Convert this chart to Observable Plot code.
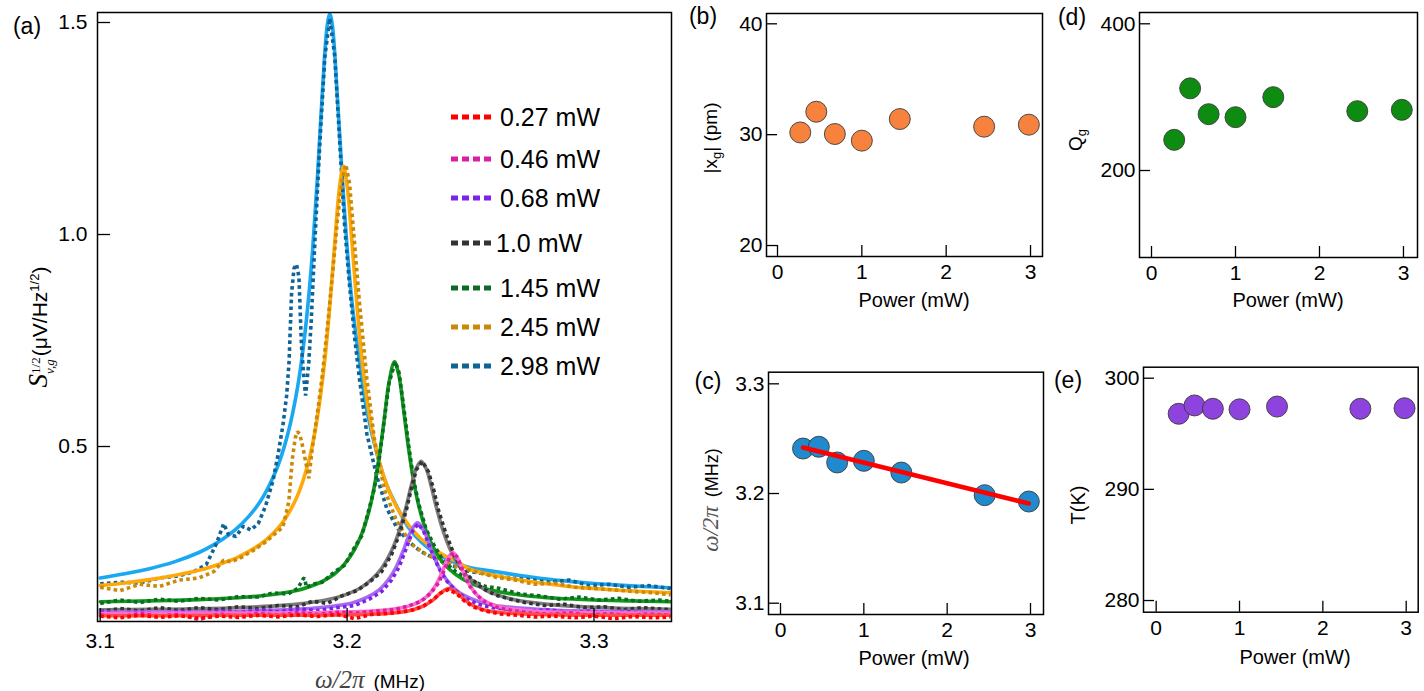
<!DOCTYPE html>
<html><head><meta charset="utf-8">
<script src="https://cdn.jsdelivr.net/npm/d3@7"></script>
<script src="https://cdn.jsdelivr.net/npm/@observablehq/plot@0.6"></script>
<style>
body{margin:0;background:#fff;}
#fig{position:relative;width:1424px;height:691px;font-family:"Liberation Sans",Arial,sans-serif;color:#000;overflow:hidden;background:#fff;}
#fig svg{position:absolute;}
#fig svg text{font-size:21px;font-family:"Liberation Sans",Arial,sans-serif;}
.t{position:absolute;white-space:nowrap;transform:translate(-50%,-50%);line-height:1;}
.r{transform:translate(-50%,-50%) rotate(-90deg);}
.m{font-family:"Liberation Serif","DejaVu Serif",serif;font-style:italic;}
</style></head><body><div id="fig"></div>
<script>
// ---------- panel (a): spectra ----------
const powerLabels = ["0.27 mW","0.46 mW","0.68 mW","1.0 mW","1.45 mW","2.45 mW","2.98 mW"];
const dataColors = ["#ff0000","#d91fa6","#7d22e8","#333333","#0c6b27","#c98a0a","#0f6396"];
const fitColors  = ["#ff4a4a","#ff6ccc","#a56af0","#7c7c7c","#119a1a","#ffa80a","#1aa8f2"];

const fitF027 = [3.100,3.130,3.160,3.185,3.200,3.212,3.220,3.226,3.231,3.235,3.238,3.2412,3.2445,3.2475,3.251,3.256,3.263,3.272,3.285,3.305,3.331];
const fitV027 = [0.101,0.101,0.102,0.102,0.103,0.105,0.108,0.114,0.124,0.139,0.155,0.165,0.155,0.139,0.125,0.114,0.108,0.105,0.103,0.102,0.102];
const datF027 = [3.100,3.108,3.116,3.124,3.132,3.140,3.148,3.156,3.164,3.172,3.180,3.188,3.196,3.203,3.210,3.216,3.222,3.227,3.231,3.235,3.238,3.2412,3.2445,3.2475,3.251,3.256,3.262,3.269,3.276,3.284,3.292,3.300,3.308,3.316,3.324,3.331];
const datV027 = [0.100,0.096,0.102,0.097,0.101,0.095,0.100,0.097,0.102,0.098,0.103,0.099,0.104,0.094,0.104,0.106,0.110,0.115,0.124,0.140,0.155,0.163,0.152,0.136,0.122,0.112,0.105,0.102,0.098,0.100,0.096,0.100,0.094,0.099,0.096,0.098];

const fitF046 = [3.100,3.130,3.160,3.185,3.200,3.210,3.218,3.224,3.229,3.233,3.236,3.2385,3.2408,3.2428,3.2448,3.2471,3.2496,3.2526,3.256,3.261,3.268,3.278,3.290,3.305,3.331];
const fitV046 = [0.106,0.107,0.107,0.108,0.110,0.112,0.116,0.122,0.133,0.150,0.174,0.204,0.236,0.250,0.236,0.204,0.174,0.150,0.135,0.123,0.116,0.111,0.109,0.108,0.107];
const datF046 = [3.100,3.108,3.116,3.124,3.132,3.140,3.148,3.156,3.164,3.172,3.180,3.188,3.196,3.204,3.212,3.219,3.225,3.230,3.234,3.237,3.2395,3.2415,3.243,3.2448,3.247,3.2495,3.2525,3.256,3.261,3.267,3.274,3.282,3.290,3.298,3.306,3.314,3.322,3.331];
const datV046 = [0.103,0.098,0.106,0.100,0.104,0.092,0.105,0.100,0.106,0.102,0.108,0.104,0.109,0.107,0.112,0.115,0.124,0.135,0.155,0.178,0.210,0.238,0.250,0.238,0.205,0.172,0.150,0.133,0.120,0.113,0.108,0.104,0.108,0.102,0.106,0.101,0.105,0.102];

const fitF068 = [3.100,3.120,3.140,3.160,3.175,3.185,3.195,3.202,3.208,3.213,3.217,3.220,3.223,3.2255,3.2285,3.2315,3.234,3.237,3.240,3.244,3.248,3.253,3.260,3.270,3.285,3.300,3.315,3.331];
const fitV068 = [0.109,0.110,0.110,0.112,0.115,0.118,0.124,0.131,0.144,0.162,0.188,0.217,0.258,0.296,0.320,0.296,0.258,0.217,0.188,0.162,0.147,0.135,0.125,0.119,0.114,0.112,0.111,0.110];
const datF068 = [3.100,3.108,3.116,3.124,3.132,3.140,3.148,3.156,3.164,3.172,3.180,3.188,3.196,3.203,3.209,3.214,3.218,3.221,3.224,3.2265,3.2288,3.231,3.234,3.237,3.240,3.244,3.248,3.253,3.259,3.266,3.274,3.282,3.290,3.298,3.306,3.314,3.322,3.331];
const datV068 = [0.112,0.105,0.110,0.104,0.112,0.106,0.113,0.108,0.114,0.110,0.117,0.113,0.120,0.125,0.140,0.158,0.185,0.215,0.260,0.300,0.318,0.300,0.255,0.215,0.185,0.160,0.142,0.128,0.120,0.116,0.112,0.115,0.108,0.112,0.107,0.110,0.106,0.108];

const fitF100 = [3.100,3.120,3.140,3.160,3.175,3.185,3.195,3.200,3.205,3.210,3.214,3.218,3.221,3.224,3.226,3.228,3.230,3.232,3.234,3.236,3.239,3.242,3.246,3.250,3.256,3.263,3.270,3.285,3.300,3.315,3.331];
const fitV100 = [0.115,0.116,0.117,0.121,0.126,0.132,0.143,0.152,0.165,0.187,0.213,0.254,0.299,0.360,0.408,0.448,0.465,0.448,0.408,0.360,0.299,0.254,0.213,0.187,0.162,0.146,0.136,0.126,0.121,0.118,0.116];
const datF100 = [3.100,3.108,3.116,3.124,3.132,3.140,3.148,3.156,3.164,3.172,3.180,3.186,3.192,3.198,3.204,3.209,3.214,3.218,3.221,3.224,3.226,3.228,3.2305,3.233,3.235,3.237,3.240,3.243,3.246,3.250,3.255,3.260,3.266,3.272,3.280,3.288,3.296,3.304,3.312,3.320,3.331];
const datV100 = [0.110,0.118,0.112,0.120,0.113,0.120,0.115,0.122,0.118,0.125,0.122,0.135,0.130,0.148,0.160,0.180,0.205,0.245,0.290,0.350,0.400,0.445,0.465,0.440,0.400,0.350,0.295,0.250,0.215,0.190,0.165,0.150,0.140,0.132,0.125,0.128,0.120,0.122,0.115,0.120,0.115];

const fitF145 = [3.100,3.120,3.140,3.160,3.170,3.180,3.185,3.190,3.195,3.199,3.203,3.206,3.209,3.211,3.213,3.215,3.217,3.2192,3.221,3.223,3.225,3.227,3.229,3.232,3.235,3.239,3.244,3.250,3.260,3.270,3.285,3.300,3.315,3.331];
const fitV145 = [0.134,0.136,0.139,0.145,0.151,0.161,0.170,0.182,0.200,0.223,0.257,0.295,0.351,0.405,0.475,0.562,0.652,0.700,0.667,0.581,0.491,0.417,0.361,0.301,0.261,0.225,0.198,0.178,0.159,0.150,0.142,0.138,0.136,0.134];
const datF145 = [3.100,3.108,3.116,3.124,3.132,3.140,3.148,3.156,3.164,3.170,3.176,3.180,3.1822,3.1828,3.1835,3.186,3.190,3.195,3.199,3.203,3.206,3.209,3.211,3.213,3.215,3.217,3.2195,3.221,3.223,3.225,3.227,3.229,3.232,3.235,3.239,3.244,3.250,3.256,3.262,3.270,3.278,3.286,3.294,3.302,3.310,3.318,3.326,3.331];
const datV145 = [0.130,0.138,0.132,0.140,0.135,0.142,0.138,0.146,0.145,0.155,0.152,0.165,0.188,0.190,0.168,0.175,0.180,0.205,0.220,0.262,0.290,0.355,0.400,0.470,0.560,0.650,0.700,0.675,0.590,0.500,0.420,0.365,0.305,0.270,0.230,0.205,0.185,0.170,0.165,0.152,0.148,0.140,0.145,0.138,0.142,0.135,0.138,0.135];

const fitF245 = [3.100,3.110,3.120,3.130,3.140,3.150,3.155,3.160,3.165,3.170,3.174,3.177,3.179,3.181,3.183,3.185,3.187,3.189,3.191,3.193,3.195,3.197,3.1985,3.200,3.202,3.204,3.206,3.209,3.212,3.216,3.220,3.225,3.230,3.235,3.240,3.245,3.250,3.260,3.270,3.280,3.290,3.300,3.310,3.320,3.331];
const fitV245 = [0.172,0.178,0.186,0.196,0.208,0.226,0.237,0.252,0.270,0.295,0.322,0.350,0.372,0.400,0.435,0.478,0.535,0.610,0.706,0.832,0.980,1.115,1.160,1.115,0.980,0.832,0.706,0.575,0.488,0.410,0.358,0.314,0.282,0.259,0.241,0.227,0.210,0.196,0.185,0.177,0.170,0.165,0.161,0.158,0.155];
const datF245 = [3.100,3.108,3.116,3.124,3.132,3.140,3.146,3.150,3.153,3.157,3.162,3.167,3.171,3.174,3.1764,3.1778,3.1790,3.1798,3.1808,3.1820,3.1832,3.1845,3.186,3.188,3.190,3.192,3.194,3.196,3.198,3.1995,3.201,3.203,3.205,3.208,3.211,3.215,3.220,3.226,3.232,3.238,3.245,3.252,3.260,3.268,3.276,3.284,3.292,3.300,3.308,3.316,3.324,3.331];
const datV245 = [0.168,0.160,0.175,0.170,0.185,0.190,0.205,0.232,0.228,0.238,0.255,0.275,0.295,0.310,0.370,0.470,0.520,0.535,0.530,0.500,0.465,0.425,0.500,0.580,0.670,0.780,0.900,1.030,1.130,1.165,1.120,0.980,0.840,0.660,0.520,0.400,0.325,0.270,0.245,0.230,0.215,0.205,0.192,0.185,0.175,0.178,0.168,0.165,0.162,0.158,0.155,0.150];

const fitF298 = [3.100,3.110,3.120,3.130,3.140,3.145,3.150,3.155,3.160,3.165,3.170,3.173,3.176,3.178,3.180,3.182,3.184,3.186,3.188,3.190,3.192,3.193,3.194,3.196,3.198,3.200,3.202,3.205,3.208,3.212,3.216,3.220,3.225,3.230,3.235,3.240,3.245,3.250,3.260,3.270,3.280,3.290,3.300,3.310,3.320,3.331];
const fitV298 = [0.190,0.200,0.212,0.228,0.250,0.265,0.283,0.305,0.334,0.372,0.427,0.471,0.530,0.580,0.642,0.722,0.826,0.961,1.136,1.337,1.495,1.520,1.495,1.330,1.140,0.970,0.840,0.700,0.585,0.485,0.410,0.360,0.308,0.275,0.252,0.236,0.223,0.214,0.205,0.196,0.188,0.182,0.177,0.173,0.170,0.167];
const datF298 = [3.100,3.108,3.116,3.124,3.132,3.138,3.143,3.147,3.150,3.152,3.155,3.158,3.161,3.164,3.167,3.170,3.172,3.174,3.1755,3.1765,3.1775,3.1785,3.1795,3.1805,3.1815,3.1825,3.1832,3.1845,3.1855,3.187,3.189,3.191,3.193,3.195,3.197,3.199,3.201,3.203,3.205,3.208,3.212,3.216,3.220,3.225,3.230,3.236,3.242,3.250,3.258,3.266,3.274,3.282,3.290,3.298,3.306,3.314,3.322,3.331];
const datV298 = [0.176,0.180,0.178,0.190,0.195,0.205,0.222,0.270,0.318,0.292,0.288,0.312,0.303,0.318,0.360,0.420,0.480,0.550,0.620,0.700,0.860,0.920,0.930,0.900,0.740,0.660,0.620,0.700,0.800,0.990,1.220,1.420,1.510,1.420,1.220,1.020,0.880,0.760,0.660,0.530,0.430,0.355,0.310,0.275,0.252,0.235,0.220,0.205,0.198,0.190,0.186,0.180,0.185,0.172,0.175,0.168,0.172,0.165];

const xTicksA = [3.1, 3.2, 3.3];
const yTicksA = [0.5, 1.0, 1.5];

// ---------- panels (b)-(e): fitted parameters vs power ----------
const powerMW = [0.27, 0.46, 0.68, 1.0, 1.45, 2.45, 2.98];
const ampXg   = [30.2, 32.07, 30.06, 29.46, 31.41, 30.72, 30.9];
const freqRes = [3.241, 3.2426, 3.2283, 3.2298, 3.2191, 3.1985, 3.1927];
const qualQg  = [241.8, 312, 276.8, 272.7, 300, 280.9, 282.7];
const tempK   = [296.8, 297.55, 297.25, 297.2, 297.45, 297.25, 297.3];
const linFitP = [0.27, 2.98];
const linFitW = [3.2419, 3.1909];
const powerTicks = [0, 1, 2, 3];

// ---------- build ----------
const FONT = '"Liberation Sans", Arial, sans-serif';
const fig = document.getElementById("fig");
const rows = (xs, ys) => xs.map((x, i) => ({x, y: ys[i]}));

const curves = [
  [fitF027, fitV027, datF027, datV027],
  [fitF046, fitV046, datF046, datV046],
  [fitF068, fitV068, datF068, datV068],
  [fitF100, fitV100, datF100, datV100],
  [fitF145, fitV145, datF145, datV145],
  [fitF245, fitV245, datF245, datV245],
  [fitF298, fitV298, datF298, datV298]
];

const lineMarks = [];
for (let i = curves.length - 1; i >= 0; i--) {
  const [ff, fv, df, dv] = curves[i];
  lineMarks.push(Plot.line(rows(ff, fv), {x: "x", y: "y", stroke: fitColors[i], strokeWidth: 3.6, curve: "catmull-rom", clip: true}));
  lineMarks.push(Plot.line(rows(df, dv), {x: "x", y: "y", stroke: dataColors[i], strokeWidth: 3.6, strokeDasharray: "3.6,3.2", strokeLinecap: "butt", strokeLinejoin: "miter", clip: true}));
}

const fmt1 = d3.format(".1f");
const fmtD = d3.format("d");
const place = (svg, left, top) => { svg.style.left = left + "px"; svg.style.top = top + "px"; fig.appendChild(svg); };

const plotA = Plot.plot({
  width: 690, height: 691, marginLeft: 97, marginRight: 19, marginTop: 12, marginBottom: 70,
  style: {fontFamily: FONT, fontSize: "21px", color: "#000", background: "transparent", overflow: "visible"},
  x: {domain: [3.0989, 3.3314]},
  y: {domain: [0.0873, 1.5236]},
  marks: [
    ...lineMarks,
    Plot.frame({stroke: "#000", strokeWidth: 1.5}),
    Plot.axisX({ticks: xTicksA, tickSize: -13, tickPadding: 25, tickFormat: fmt1, label: null, strokeWidth: 1.3}),
    Plot.axisY({ticks: yTicksA, tickSize: -13, tickPadding: 23, tickFormat: fmt1, label: null, strokeWidth: 1.3})
  ]
});
place(plotA, 0, 0);

function smallPanel({left, top, width, height, mL, mR, mT, mB, xDom, yDom, yTicks, yFmt, ys, fill, extra = []}) {
  const svg = Plot.plot({
    width, height, marginLeft: mL, marginRight: mR, marginTop: mT, marginBottom: mB,
    style: {fontFamily: FONT, fontSize: "21px", color: "#000", background: "transparent", overflow: "visible"},
    x: {domain: xDom},
    y: {domain: yDom},
    marks: [
      Plot.dot(rows(powerMW, ys), {x: "x", y: "y", r: 10.5, fill, stroke: "#3a3a3a", strokeWidth: 0.9}),
      ...extra,
      Plot.frame({stroke: "#000", strokeWidth: 1.5}),
      Plot.axisX({ticks: powerTicks, tickSize: -11, tickPadding: 19, tickFormat: fmtD, label: null, strokeWidth: 1.3}),
      Plot.axisY({ticks: yTicks, tickSize: -11, tickPadding: 15, tickFormat: yFmt, label: null, strokeWidth: 1.3})
    ]
  });
  place(svg, left, top);
}

smallPanel({left: 680, top: 0, width: 370, height: 320, mL: 86, mR: 8, mT: 13, mB: 64,
  xDom: [-0.1304, 3.142], yDom: [19.01, 40.93], yTicks: [20, 30, 40], yFmt: fmtD, ys: ampXg, fill: "#f7823e"});
smallPanel({left: 1050, top: 0, width: 374, height: 320, mL: 89, mR: 7, mT: 12, mB: 63,
  xDom: [-0.143, 3.167], yDom: [81.4, 415.4], yTicks: [200, 400], yFmt: fmtD, ys: qualQg, fill: "#0e8c12"});
smallPanel({left: 680, top: 330, width: 370, height: 361, mL: 88, mR: 7, mT: 41.7, mB: 77,
  xDom: [-0.144, 3.156], yDom: [3.0897, 3.3106], yTicks: [3.1, 3.2, 3.3], yFmt: fmt1, ys: freqRes, fill: "#1f8acd",
  extra: [Plot.line(rows(linFitP, linFitW), {x: "x", y: "y", stroke: "#ff0000", strokeWidth: 4.5})]});
smallPanel({left: 1050, top: 330, width: 374, height: 361, mL: 93, mR: 6.3, mT: 36.7, mB: 79.3,
  xDom: [-0.152, 3.144], yDom: [278.95, 300.99], yTicks: [280, 290, 300], yFmt: fmtD, ys: tempK, fill: "#8e42de"});

// ---------- text (labels, titles, legend) ----------
function txt(html, x, y, style = "", cls = "t") {
  const d = document.createElement("div");
  d.className = cls; d.innerHTML = html;
  d.style.left = x + "px"; d.style.top = y + "px";
  if (style) d.style.cssText += style;
  fig.appendChild(d);
  return d;
}
const panelLabels = ["(a)", "(b)", "(c)", "(d)", "(e)"];
const panelLabelPos = [[27, 26], [703, 16], [708, 381], [1072, 17], [1068, 380]];
panelLabels.forEach((l, i) => txt(l, panelLabelPos[i][0], panelLabelPos[i][1], "font-size:23px;"));

// (a) axis titles
txt('<span class="m" style="font-size:25px;color:#444">ω/2π</span>&nbsp;&nbsp;<span style="font-size:19px">(MHz)</span>', 370, 679);
txt('<span class="m" style="font-size:27px">S</span><span style="display:inline-block;vertical-align:middle;line-height:1.05;text-align:left;margin-right:1px"><span class="m" style="display:block;font-size:13px;font-style:normal">1/2</span><span class="m" style="display:block;font-size:13px">v,g</span></span><span style="font-size:21px">(μV/Hz<sup style="font-size:13px">1/2</sup>)</span>',
    41, 327, "", "t r");

// (b)-(e) axis titles
const powerTitle = "Power (mW)";
txt(powerTitle, 914, 300, "font-size:20px;");
txt(powerTitle, 1288, 300, "font-size:20px;");
txt(powerTitle, 914, 658, "font-size:20px;");
txt(powerTitle, 1295, 657, "font-size:20px;");
txt('|x<sub style="font-size:13px">g</sub>| (pm)', 712, 138, "font-size:19px;", "t r");
txt('Q<sub style="font-size:13px">g</sub>', 1077, 140, "font-size:19px;", "t r");
txt('<span class="m" style="font-size:23px;color:#555">ω/2π</span>&nbsp;&nbsp;<span style="font-size:18px">(MHz)</span>', 710, 500, "", "t r");
txt('T(K)', 1078, 505, "font-size:20px;", "t r");

// legend of (a)
const legendY = [117, 159, 198, 243, 288, 327, 366];
powerLabels.forEach((lab, i) => {
  const row = document.createElement("div");
  row.style.cssText = `position:absolute;left:451px;top:${legendY[i] - 14}px;height:28px;display:flex;align-items:center;white-space:nowrap;font-size:25px;line-height:1;`;
  row.innerHTML = `<svg width="42" height="10" style="position:static;margin-right:${i === 3 ? 3 : 7}px"><line x1="0" y1="5" x2="42" y2="5" stroke="${dataColors[i]}" stroke-width="5" stroke-dasharray="7,4"/></svg><span>${lab}</span>`;
  fig.appendChild(row);
});
</script></body></html>
